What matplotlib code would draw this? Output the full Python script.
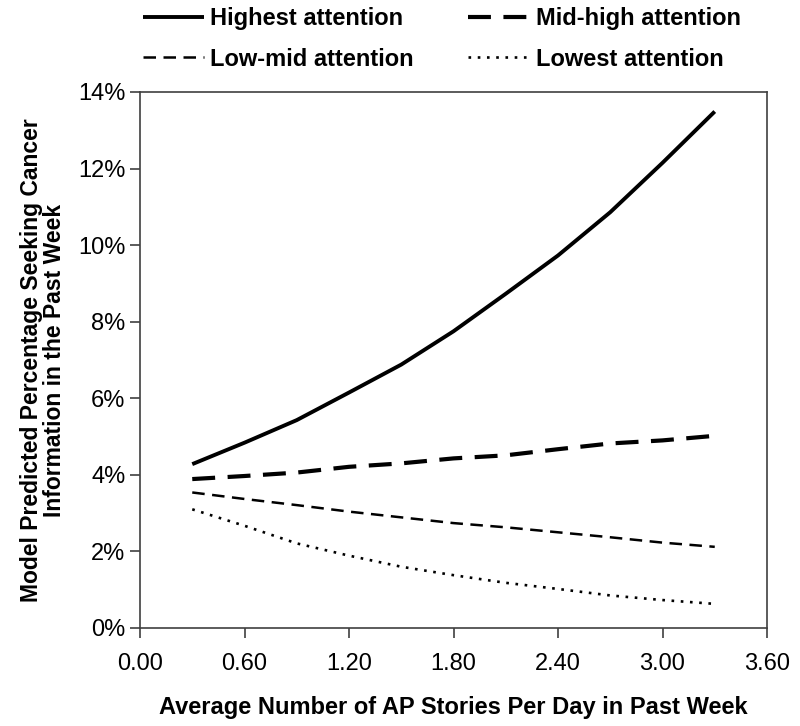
"""Model-predicted cancer info seeking by AP story volume, four attention groups."""
import matplotlib
matplotlib.use('Agg')
import matplotlib.pyplot as plt
from matplotlib.ticker import FuncFormatter

plt.rcParams.update({
    'font.family': ['Liberation Sans', 'DejaVu Sans'],
    'font.size': 17,
    'axes.edgecolor': '#404040',
    'axes.linewidth': 1.2,
    'xtick.color': '#404040',
    'ytick.color': '#404040',
    'xtick.labelcolor': 'black',
    'ytick.labelcolor': 'black',
})

# stories per day (x) and predicted % seeking info for each attention group
stories = [0.3, 0.6, 0.9, 1.2, 1.5, 1.8, 2.1, 2.4, 2.7, 3.0, 3.3]
highest = [4.28, 4.84, 5.43, 6.15, 6.88, 7.75, 8.73, 9.73, 10.86, 12.15, 13.49]
mid_high = [3.89, 3.97, 4.06, 4.21, 4.30, 4.43, 4.51, 4.67, 4.82, 4.90, 5.02]
low_mid = [3.54, 3.37, 3.21, 3.04, 2.89, 2.74, 2.63, 2.50, 2.37, 2.23, 2.12]
lowest = [3.10, 2.67, 2.21, 1.89, 1.60, 1.38, 1.18, 1.02, 0.85, 0.73, 0.63]

xticks = [0.0, 0.6, 1.2, 1.8, 2.4, 3.0, 3.6]
yticks = [0, 2, 4, 6, 8, 10, 12, 14]

fig = plt.figure(figsize=(8.0, 7.26), dpi=100)
ax = fig.add_axes([140/800, 1 - 628/726, (767 - 140)/800, (628 - 92)/726])

h1, = ax.plot(stories, highest, color='black', lw=2.8, ls='-',
              solid_capstyle='butt', label='Highest attention')
h2, = ax.plot(stories, mid_high, color='black', lw=3.0, ls=(0, (5.5, 3.0)),
              dash_capstyle='butt', label='Mid-high attention')
h3, = ax.plot(stories, low_mid, color='black', lw=1.8, ls=(0, (5.0, 3.0)),
              dash_capstyle='butt', label='Low-mid attention')
h4, = ax.plot(stories, lowest, color='black', lw=1.9, ls=(0, (1.0, 2.5)),
              dash_capstyle='butt', label='Lowest attention')

ax.set_xlim(0, 3.6)
ax.set_ylim(0, 14)
ax.set_xticks(xticks)
ax.set_yticks(yticks)
ax.xaxis.set_major_formatter(FuncFormatter(lambda v, p: f'{v:.2f}'))
ax.yaxis.set_major_formatter(FuncFormatter(lambda v, p: f'{v:.0f}%'))
ax.tick_params(direction='out', length=7, width=1.2, labelsize=17)
ax.tick_params(axis='y', pad=3.5)
ax.tick_params(axis='x', pad=11)

ax.set_xlabel('Average Number of AP Stories Per Day in Past Week',
              fontweight='bold', fontsize=17, labelpad=15)
ax.set_ylabel('Model Predicted Percentage Seeking Cancer\nInformation in the Past Week',
              fontweight='bold', fontsize=16.5, labelpad=9, linespacing=0.95)

# column-wise fill: Highest/Low-mid on the left, Mid-high/Lowest on the right
fig.legend([h1, h3, h2, h4],
           [h.get_label() for h in (h1, h3, h2, h4)],
           ncol=2, loc='upper left', bbox_to_anchor=(143/800, 1 - 7/726),
           frameon=False, borderpad=0, borderaxespad=0,
           handlelength=2.6, handletextpad=0.25, columnspacing=2.3,
           labelspacing=0.75, prop={'weight': 'bold', 'size': 17})

fig.savefig('out.png', dpi=100, facecolor='white')
plt.close(fig)
